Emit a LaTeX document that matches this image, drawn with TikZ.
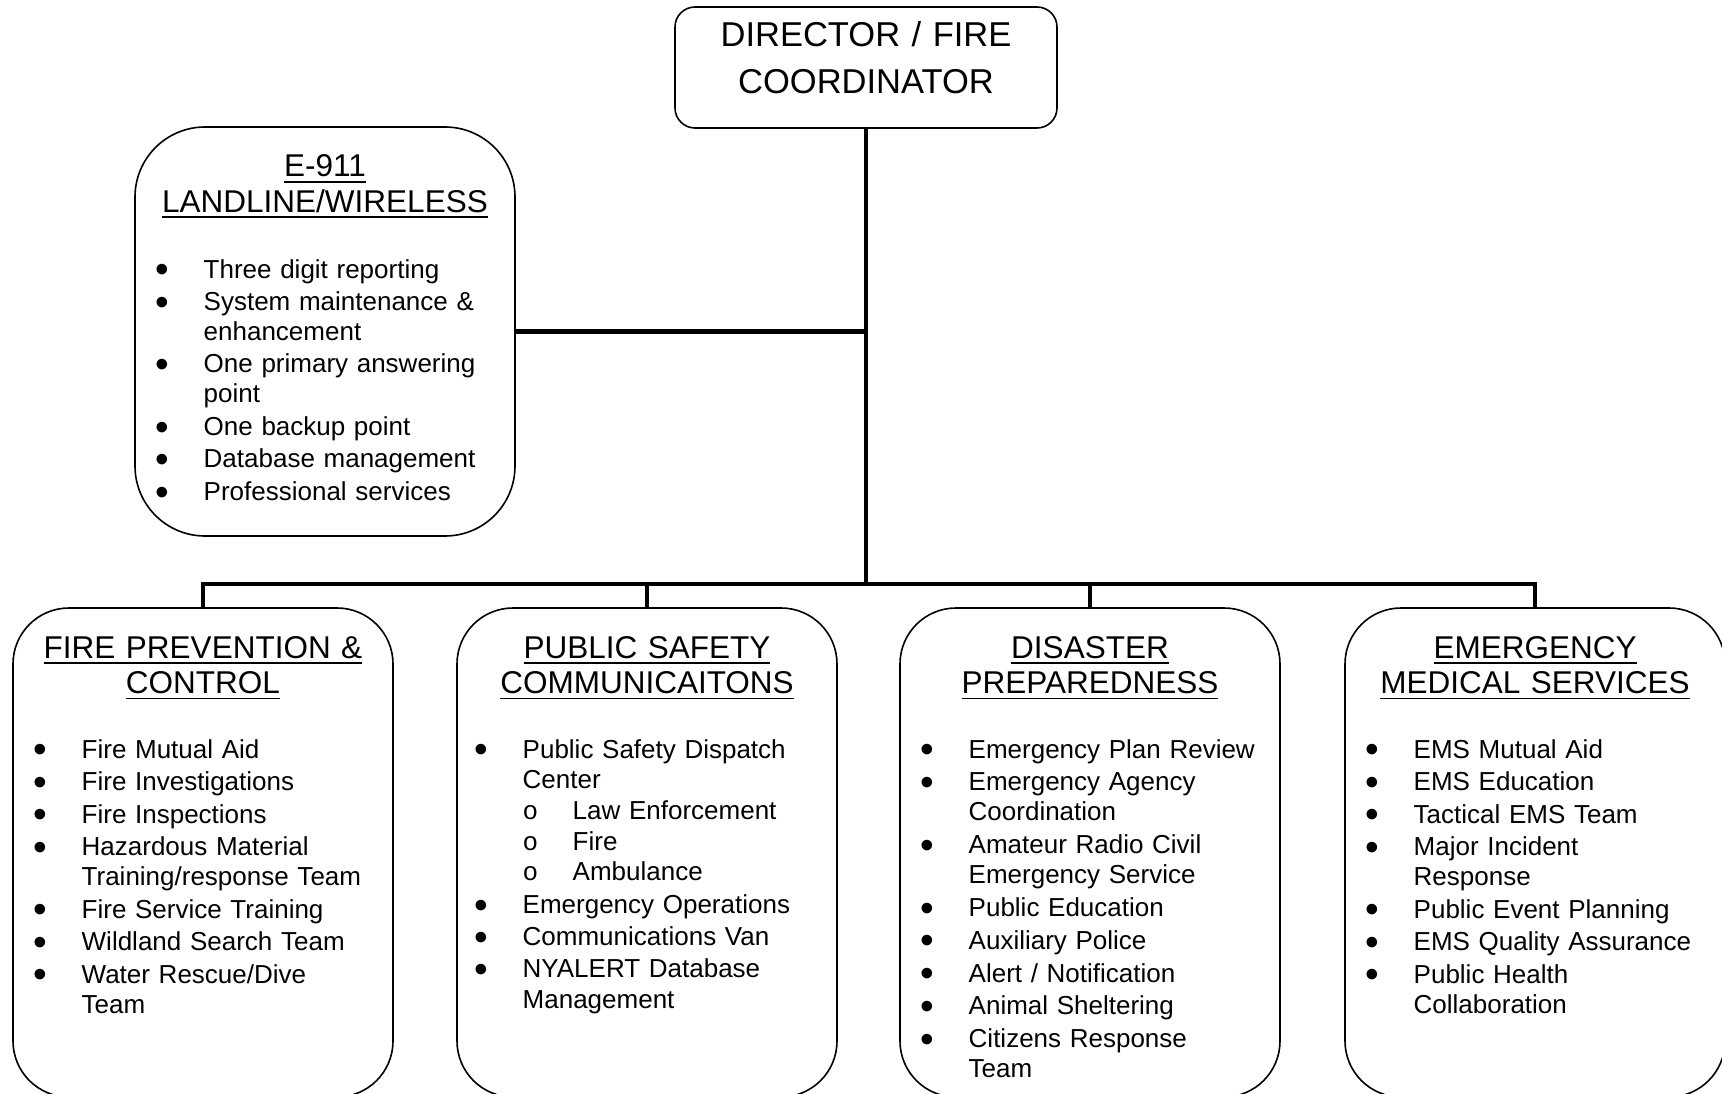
\documentclass[tikz,border=0pt]{standalone}
\usepackage{fontspec}
\setmainfont{Liberation Sans}
\newfontfamily\subfont{Liberation Mono}
\usepackage{graphicx}
\newcommand{\uln}[1]{\leavevmode\setbox0=\hbox{#1}\rlap{\rule[-5.8pt]{\wd0}{1.8pt}}\box0}
\newcommand{\bul}{\leavevmode\llap{\raisebox{-4.7pt}{\scalebox{1.5}{•}}\hspace{35pt}}}
\newcommand{\subitm}{\makebox[50pt][l]{\subfont o}}
\tikzset{
  orgbox/.style={draw, line width=1.6pt, rounded corners=#1, inner sep=0pt},
  headtext/.style={font=\fontsize{31.5}{35.5}\selectfont, text width=370pt,
    align=center, inner sep=0pt, anchor=base},
  listtext/.style={font=\fontsize{26}{30}\selectfont, text width=300pt,
    align=left, inner sep=0pt, anchor=base west},
  conn/.style={line width=4.5pt}
}
\begin{document}
\begin{tikzpicture}[x=1pt,y=-1pt]
  \useasboundingbox (0,0) rectangle (1722,1094);
  % boxes
  \node[orgbox=20pt, minimum width=382pt, minimum height=121pt] (dir) at (866,67.5) {};
  \node[orgbox=70pt, minimum width=380pt, minimum height=409pt] (e911) at (325,331.5) {};
  \node[orgbox=56pt, minimum width=380pt, minimum height=489pt] (fpBox) at (203,852.5) {};
  \node[orgbox=56pt, minimum width=380pt, minimum height=489pt] (psBox) at (647,852.5) {};
  \node[orgbox=56pt, minimum width=380pt, minimum height=489pt] (dpBox) at (1090,852.5) {};
  \node[orgbox=56pt, minimum width=380pt, minimum height=489pt] (emsBox) at (1535,852.5) {};
  % titles
  \node[headtext, font=\fontsize{34.5}{47}\selectfont] (dirText) at (866,47)
    {DIRECTOR / FIRE\\COORDINATOR};
  \node[headtext] (e911Head) at (325,177) {\uln{E-911}\\\uln{LANDLINE/WIRELESS}};
  \node[headtext] (fpHead) at (203,658) {\uln{FIRE PREVENTION \&}\\\uln{CONTROL}};
  \node[headtext] (psHead) at (647,658) {\uln{PUBLIC SAFETY}\\\uln{COMMUNICAITONS}};
  \node[headtext] (dpHead) at (1090,658) {\uln{DISASTER}\\\uln{PREPAREDNESS}};
  \node[headtext] (emsHead) at (1535,658) {\uln{EMERGENCY}\\\uln{MEDICAL SERVICES}};
  % lists
  \node[listtext] (e911List) at (203.5,278) {%
    \bul Three digit reporting\\[2.5pt]
    \bul System maintenance \&\\
    enhancement\\[2.5pt]
    \bul One primary answering\\
    point\\[2.5pt]
    \bul One backup point\\[2.5pt]
    \bul Database management\\[2.5pt]
    \bul Professional services};
  \node[listtext] (fpList) at (81.5,758) {%
    \bul Fire Mutual Aid\\[2.5pt]
    \bul Fire Investigations\\[2.5pt]
    \bul Fire Inspections\\[2.5pt]
    \bul Hazardous Material\\
    Training/response Team\\[2.5pt]
    \bul Fire Service Training\\[2.5pt]
    \bul Wildland Search Team\\[2.5pt]
    \bul Water Rescue/Dive\\
    Team};
  \node[listtext] (psList) at (522.5,758) {%
    \bul Public Safety Dispatch\\[0.7pt]
    Center\\[0.7pt]
    \subitm Law Enforcement\\[0.7pt]
    \subitm Fire\\[0.7pt]
    \subitm Ambulance\\[3pt]
    \bul Emergency Operations\\[2pt]
    \bul Communications Van\\[2pt]
    \bul NYALERT Database\\[0.7pt]
    Management};
  \node[listtext] (dpList) at (968.5,758) {%
    \bul Emergency Plan Review\\[2.8pt]
    \bul Emergency Agency\\
    Coordination\\[2.8pt]
    \bul Amateur Radio Civil\\
    Emergency Service\\[2.8pt]
    \bul Public Education\\[2.8pt]
    \bul Auxiliary Police\\[2.8pt]
    \bul Alert / Notification\\[2.8pt]
    \bul Animal Sheltering\\[2.8pt]
    \bul Citizens Response\\
    Team};
  \node[listtext] (emsList) at (1413.5,758) {%
    \bul EMS Mutual Aid\\[2.5pt]
    \bul EMS Education\\[2.5pt]
    \bul Tactical EMS Team\\[2.5pt]
    \bul Major Incident\\
    Response\\[2.5pt]
    \bul Public Event Planning\\[2.5pt]
    \bul EMS Quality Assurance\\[2.5pt]
    \bul Public Health\\
    Collaboration};
  % connectors
  \coordinate (busL) at (203,584);
  \draw[conn] (dir.south) -- (dir.south |- busL);
  \draw[conn] (e911.east) -- (e911.east -| dir.south);
  \draw[conn] (fpBox.north) -- (busL) -| (emsBox.north);
  \draw[conn] (psBox.north) -- (psBox.north |- busL);
  \draw[conn] (dpBox.north) -- (dpBox.north |- busL);
\end{tikzpicture}
\end{document}
